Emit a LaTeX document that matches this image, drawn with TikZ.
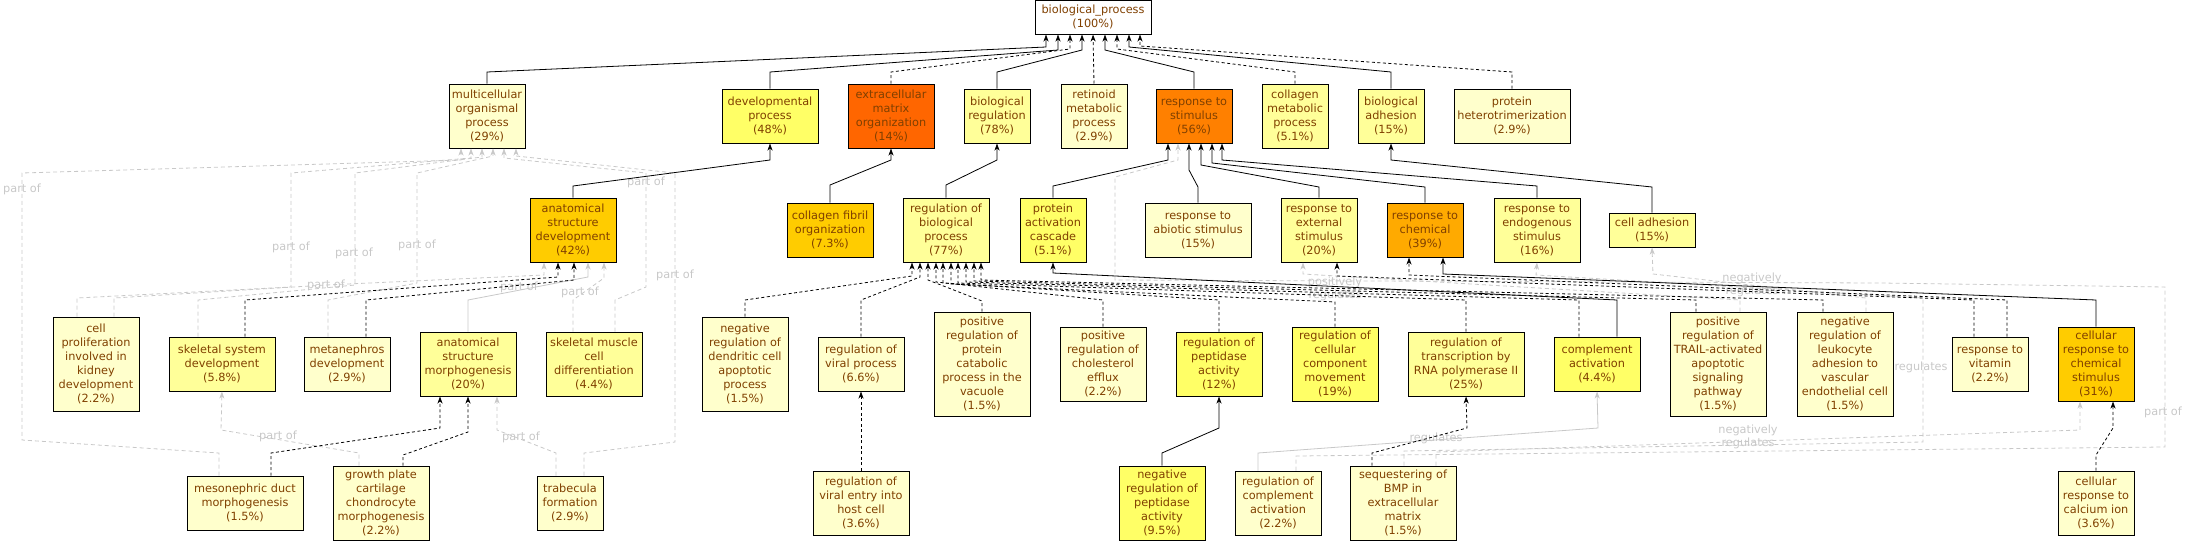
\documentclass[tikz,border=0pt]{standalone}
\usepackage{fontspec}
\setmainfont{DejaVu Sans}
\usetikzlibrary{arrows.meta}
\definecolor{termtext}{RGB}{128,64,0}
\definecolor{relgray}{RGB}{200,200,200}
\definecolor{lvla}{HTML}{FFFFCC}
\definecolor{lvlb}{HTML}{FFFF99}
\definecolor{lvlc}{HTML}{FFFF66}
\definecolor{lvld}{HTML}{FFCC00}
\definecolor{lvle}{HTML}{FFAA00}
\definecolor{lvlf}{HTML}{FF8000}
\definecolor{lvlg}{HTML}{FF6600}
\tikzset{
	term/.style={draw, line width=1pt, inner sep=0pt, align=center, text=termtext, font=\fontsize{11.3}{14}\selectfont},
	isa/.style={line width=0.8pt, -{Stealth[length=7pt,width=5pt,inset=2pt]}},
	inf/.style={isa, dash pattern=on 3pt off 2.5pt},
	relsolid/.style={line width=0.8pt, relgray, -{Stealth[length=7pt,width=5pt,inset=2pt]}},
	rel/.style={relsolid, dash pattern=on 4pt off 3pt},
	lbl/.style={text=relgray, inner sep=0pt, align=center, font=\fontsize{11.3}{13}\selectfont}
}
\begin{document}
\begin{tikzpicture}[x=1pt,y=-1pt]
			\useasboundingbox (0,0) rectangle (2187,541);
			
			\node[term, fill=white, minimum width=116, minimum height=34] (bp) at (1093,17) {biological\_process\\(100\%)};
			
			\node[term, fill=lvla, minimum width=76, minimum height=64] (multi) at (487,116) {multicellular\\organismal\\process\\(29\%)};
			\node[term, fill=lvlc, minimum width=96, minimum height=54] (devp) at (770,116) {developmental\\process\\(48\%)};
			\node[term, fill=lvlg, minimum width=86, minimum height=64] (ecm) at (891,116) {extracellular\\matrix\\organization\\(14\%)};
			\node[term, fill=lvlb, minimum width=66, minimum height=54] (breg) at (997,116) {biological\\regulation\\(78\%)};
			\node[term, fill=lvla, minimum width=66, minimum height=64] (retin) at (1094,116) {retinoid\\metabolic\\process\\(2.9\%)};
			\node[term, fill=lvlf, minimum width=76, minimum height=54] (rstim) at (1194,116) {response to\\stimulus\\(56\%)};
			\node[term, fill=lvlb, minimum width=66, minimum height=64] (colmet) at (1295,116) {collagen\\metabolic\\process\\(5.1\%)};
			\node[term, fill=lvlb, minimum width=66, minimum height=54] (badh) at (1391,116) {biological\\adhesion\\(15\%)};
			\node[term, fill=lvla, minimum width=116, minimum height=54] (phet) at (1512,116) {protein\\heterotrimerization\\(2.9\%)};
			
			\node[term, fill=lvld, minimum width=86, minimum height=64] (asd) at (573,230) {anatomical\\structure\\development\\(42\%)};
			\node[term, fill=lvld, minimum width=86, minimum height=54] (colfib) at (830,230) {collagen fibril\\organization\\(7.3\%)};
			\node[term, fill=lvlb, minimum width=86, minimum height=64] (rbp) at (946,230) {regulation of\\biological\\process\\(77\%)};
			\node[term, fill=lvlc, minimum width=66, minimum height=64] (pac) at (1053,230) {protein\\activation\\cascade\\(5.1\%)};
			\node[term, fill=lvla, minimum width=106, minimum height=54] (rabio) at (1198,230) {response to\\abiotic stimulus\\(15\%)};
			\node[term, fill=lvlb, minimum width=76, minimum height=64] (rext) at (1319,230) {response to\\external\\stimulus\\(20\%)};
			\node[term, fill=lvle, minimum width=76, minimum height=54] (rchem) at (1425,230) {response to\\chemical\\(39\%)};
			\node[term, fill=lvlb, minimum width=86, minimum height=64] (rendo) at (1537,230) {response to\\endogenous\\stimulus\\(16\%)};
			\node[term, fill=lvlb, minimum width=86, minimum height=34] (cadh) at (1652,230) {cell adhesion\\(15\%)};
			
			\node[term, fill=lvla, minimum width=86, minimum height=94] (cprol) at (96,364) {cell\\proliferation\\involved in\\kidney\\development\\(2.2\%)};
			\node[term, fill=lvlb, minimum width=106, minimum height=54] (skel) at (222,364) {skeletal system\\development\\(5.8\%)};
			\node[term, fill=lvla, minimum width=86, minimum height=54] (metan) at (347,364) {metanephros\\development\\(2.9\%)};
			\node[term, fill=lvlb, minimum width=96, minimum height=64] (asm) at (468,364) {anatomical\\structure\\morphogenesis\\(20\%)};
			\node[term, fill=lvlb, minimum width=96, minimum height=64] (skmus) at (594,364) {skeletal muscle\\cell\\differentiation\\(4.4\%)};
			\node[term, fill=lvla, minimum width=86, minimum height=94] (nrdend) at (745,364) {negative\\regulation of\\dendritic cell\\apoptotic\\process\\(1.5\%)};
			\node[term, fill=lvla, minimum width=86, minimum height=54] (rvir) at (861,364) {regulation of\\viral process\\(6.6\%)};
			\node[term, fill=lvla, minimum width=96, minimum height=104] (prcat) at (982,364) {positive\\regulation of\\protein\\catabolic\\process in the\\vacuole\\(1.5\%)};
			\node[term, fill=lvla, minimum width=86, minimum height=74] (prchol) at (1103,364) {positive\\regulation of\\cholesterol\\efflux\\(2.2\%)};
			\node[term, fill=lvlc, minimum width=86, minimum height=64] (rpep) at (1219,364) {regulation of\\peptidase\\activity\\(12\%)};
			\node[term, fill=lvlc, minimum width=86, minimum height=74] (rccm) at (1335,364) {regulation of\\cellular\\component\\movement\\(19\%)};
			\node[term, fill=lvlb, minimum width=116, minimum height=64] (rtrans) at (1466,364) {regulation of\\transcription by\\RNA polymerase II\\(25\%)};
			\node[term, fill=lvlc, minimum width=86, minimum height=54] (compl) at (1597,364) {complement\\activation\\(4.4\%)};
			\node[term, fill=lvla, minimum width=96, minimum height=104] (prtrail) at (1718,364) {positive\\regulation of\\TRAIL-activated\\apoptotic\\signaling\\pathway\\(1.5\%)};
			\node[term, fill=lvla, minimum width=96, minimum height=104] (nrleuk) at (1845,364) {negative\\regulation of\\leukocyte\\adhesion to\\vascular\\endothelial cell\\(1.5\%)};
			\node[term, fill=lvla, minimum width=76, minimum height=54] (rvit) at (1990,364) {response to\\vitamin\\(2.2\%)};
			\node[term, fill=lvld, minimum width=76, minimum height=74] (crchem) at (2096,364) {cellular\\response to\\chemical\\stimulus\\(31\%)};
			
			\node[term, fill=lvla, minimum width=116, minimum height=54] (mesoneph) at (245,503) {mesonephric duct\\morphogenesis\\(1.5\%)};
			\node[term, fill=lvla, minimum width=96, minimum height=74] (growth) at (381,503) {growth plate\\cartilage\\chondrocyte\\morphogenesis\\(2.2\%)};
			\node[term, fill=lvla, minimum width=66, minimum height=54] (trab) at (570,503) {trabecula\\formation\\(2.9\%)};
			\node[term, fill=lvla, minimum width=96, minimum height=64] (rvent) at (861,503) {regulation of\\viral entry into\\host cell\\(3.6\%)};
			\node[term, fill=lvlc, minimum width=86, minimum height=74] (nrpep) at (1162,503) {negative\\regulation of\\peptidase\\activity\\(9.5\%)};
			\node[term, fill=lvla, minimum width=86, minimum height=64] (rcompl) at (1278,503) {regulation of\\complement\\activation\\(2.2\%)};
			\node[term, fill=lvla, minimum width=106, minimum height=74] (bmp) at (1403,503) {sequestering of\\BMP in\\extracellular\\matrix\\(1.5\%)};
			\node[term, fill=lvla, minimum width=76, minimum height=64] (crcalc) at (2096,503) {cellular\\response to\\calcium ion\\(3.6\%)};
			
			\draw[rel] ([xshift=-26]mesoneph.north) -- (219,453) -- (22,440) -- (22,173) -- (461,160) -- ([xshift=-26]multi.south);
			\draw[rel] ([xshift=-19]cprol.north) -- (77,298) -- (291,287) -- (291,173) -- (471,158) -- ([xshift=-16]multi.south);
			\draw[rel] ([xshift=-24]skel.north) -- (198,300) -- (355,285) -- (355,173) -- (482,157) -- ([xshift=-5]multi.south);
			\draw[rel] ([xshift=-19]metan.north) -- (328,300) -- (417,283) -- (417,173) -- (493,156) -- ([xshift=6]multi.south);
			\draw[rel] ([xshift=21]skmus.north) -- (615,300) -- (646,287) -- (646,173) -- (504,158) -- ([xshift=17]multi.south);
			\draw[rel] ([xshift=14]trab.north) -- (584,453) -- (675,442) -- (675,173) -- (516,156) -- ([xshift=29]multi.south);
			\draw[rel] ([xshift=18]cprol.north) -- (114,298) -- (326,285) -- (544,275) -- ([xshift=-29]asd.south);
			\draw[relsolid] (asm.north) -- (468,300) -- (588,277) -- ([xshift=15]asd.south);
			\draw[rel] ([xshift=-21]skmus.north) -- (573,300) -- (604,278) -- ([xshift=31]asd.south);
			\draw[rel] ([xshift=-22]growth.north) -- (359,453) -- (221,430) -- (skel.south);
			\draw[rel] ([xshift=-14]trab.north) -- (556,453) -- (497,430) -- ([xshift=29]asm.south);
			
			\draw[rel] ([xshift=22]prtrail.north) -- (1740,300) -- (1303,274) -- ([xshift=-16]rext.south);
			\draw[rel] ([xshift=21]nrleuk.north) -- (1866,298) -- (1653,274) -- (cadh.south);
			\draw[rel] ([xshift=1]bmp.north) -- (1404,451) -- (1923,442) -- (1923,298) -- (1536,275) -- (rendo.south);
			\draw[rel] ([xshift=33]bmp.north) -- (1436,452) -- (2080,430) -- ([xshift=-16]crchem.south);
			\draw[relsolid] ([xshift=-20]rcompl.north) -- (1258,453) -- (1598,428) -- (compl.south);
			\draw[rel] ([xshift=18]rcompl.north) -- (1296,456) -- (2165,447) -- (2165,287) -- (1880,283) -- (1115,280) -- (1115,177) -- (1178,160) -- ([xshift=-16]rstim.south);
			
			\node[lbl] (po1) at (22,189) {part of};
			\node[lbl] (po2) at (291,247) {part of};
			\node[lbl] (po3) at (354,253) {part of};
			\node[lbl] (po4) at (417,245) {part of};
			\node[lbl] (po5) at (646,182) {part of};
			\node[lbl] (po6) at (675,275) {part of};
			\node[lbl] (po7) at (326,285) {part of};
			\node[lbl] (po8) at (519,287) {part of};
			\node[lbl] (po9) at (580,292) {part of};
			\node[lbl] (po10) at (278,436) {part of};
			\node[lbl] (po11) at (521,437) {part of};
			\node[lbl] (po12) at (2163,412) {part of};
			\node[lbl] (preg) at (1335,289) {positively\\regulates};
			\node[lbl] (nreg1) at (1752,285) {negatively\\regulates};
			\node[lbl] (nreg2) at (1748,437) {negatively\\regulates};
			\node[lbl] (reg1) at (1921,367) {regulates};
			\node[lbl] (reg2) at (1436,438) {regulates};
			
			\draw[isa] (multi.north) -- (487,72) -- (1046,47) -- ([xshift=-47]bp.south);
			\draw[isa] (devp.north) -- (770,72) -- (1058,50) -- ([xshift=-35]bp.south);
			\draw[inf] (ecm.north) -- (891,72) -- (1070,49) -- ([xshift=-23]bp.south);
			\draw[isa] (breg.north) -- (997,72) -- (1082,50) -- ([xshift=-11]bp.south);
			\draw[inf] (retin.north) -- (bp.south);
			\draw[isa] (rstim.north) -- (1194,72) -- (1105,50) -- ([xshift=12]bp.south);
			\draw[inf] (colmet.north) -- (1295,72) -- (1117,49) -- ([xshift=24]bp.south);
			\draw[isa] (badh.north) -- (1391,72) -- (1129,47) -- ([xshift=36]bp.south);
			\draw[inf] (phet.north) -- (1512,72) -- (1140,46) -- ([xshift=47]bp.south);
			
			\draw[isa] (asd.north) -- (573,186) -- (770,160) -- (devp.south);
			\draw[isa] (colfib.north) -- (830,185) -- (891,160) -- (ecm.south);
			\draw[isa] (rbp.north) -- (946,185) -- (997,160) -- (breg.south);
			\draw[isa] (pac.north) -- (1053,186) -- (1168,160) -- ([xshift=-26]rstim.south);
			\draw[isa] (rabio.north) -- (1198,187) -- (1189,170) -- ([xshift=-5]rstim.south);
			\draw[isa] (rext.north) -- (1319,187) -- (1201,165) -- ([xshift=7]rstim.south);
			\draw[isa] (rchem.north) -- (1425,187) -- (1212,163) -- ([xshift=18]rstim.south);
			\draw[isa] (rendo.north) -- (1537,186) -- (1222,160) -- ([xshift=28]rstim.south);
			\draw[isa] (cadh.north) -- (1652,187) -- (1391,160) -- (badh.south);
			
			\draw[inf] ([xshift=23]skel.north) -- (245,300) -- (558,277) -- ([xshift=-15]asd.south);
			\draw[inf] ([xshift=19]metan.north) -- (366,300) -- (574,280) -- ([xshift=1]asd.south);
			\draw[inf] ([xshift=26]mesoneph.north) -- (271,453) -- (440,428) -- ([xshift=-28]asm.south);
			\draw[inf] ([xshift=22]growth.north) -- (403,455) -- (468,432) -- (asm.south);
			
			\draw[inf] (nrdend.north) -- (745,300) -- (912,276) -- ([xshift=-34]rbp.south);
			\draw[inf] (rvir.north) -- (861,300) -- (920,277) -- ([xshift=-26]rbp.south);
			\draw[inf] (prcat.north) -- (982,301) -- (928,280) -- ([xshift=-18]rbp.south);
			\draw[inf] (prchol.north) -- (1103,300) -- (936,282) -- ([xshift=-10]rbp.south);
			\draw[inf] (rpep.north) -- (1219,300) -- (943,283) -- ([xshift=-3]rbp.south);
			\draw[inf] (rccm.north) -- (1335,302) -- (951,284) -- ([xshift=5]rbp.south);
			\draw[inf] (rtrans.north) -- (1466,300) -- (958,283) -- ([xshift=12]rbp.south);
			\draw[inf] ([xshift=-18]compl.north) -- (1579,300) -- (966,282) -- ([xshift=20]rbp.south);
			\draw[inf] ([xshift=-22]prtrail.north) -- (1696,300) -- (974,281) -- ([xshift=28]rbp.south);
			\draw[inf] ([xshift=-22]nrleuk.north) -- (1823,300) -- (981,280) -- ([xshift=35]rbp.south);
			\draw[isa] ([xshift=20]compl.north) -- (1617,300) -- (1053,273) -- (pac.south);
			\draw[inf] ([xshift=-16]rvit.north) -- (1974,300) -- (1337,276) -- ([xshift=18]rext.south);
			\draw[inf] ([xshift=17]rvit.north) -- (2007,300) -- (1409,275) -- ([xshift=-16]rchem.south);
			\draw[isa] (crchem.north) -- (2096,300) -- (1443,274) -- ([xshift=18]rchem.south);
			
			\draw[inf] (rvent.north) -- (rvir.south);
			\draw[isa] (nrpep.north) -- (1162,453) -- (1219,428) -- (rpep.south);
			\draw[inf] ([xshift=-31]bmp.north) -- (1372,453) -- (1467,428) -- (rtrans.south);
			\draw[inf] (crcalc.north) -- (2096,455) -- (2113,428) -- ([xshift=17]crchem.south);
\end{tikzpicture}
\end{document}
